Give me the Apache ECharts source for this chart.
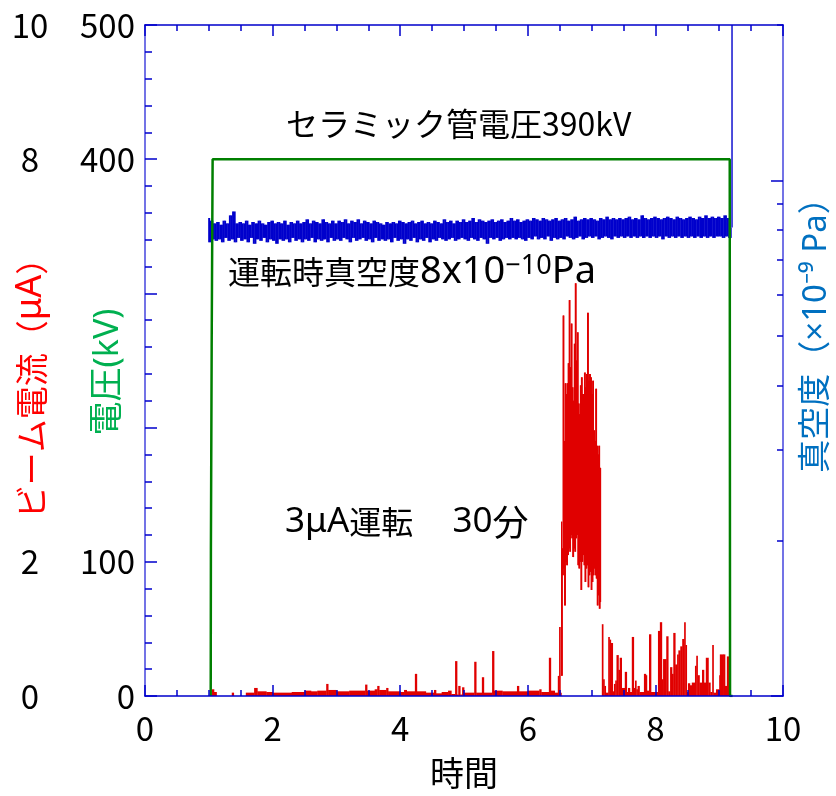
<!DOCTYPE html>
<html>
<head>
<meta charset="utf-8">
<script src="https://cdn.jsdelivr.net/npm/echarts@6/dist/echarts.min.js"></script>
<style>
  html, body { margin: 0; padding: 0; background: #fff; }
  #chart { width: 836px; height: 796px; }
</style>
</head>
<body>
<div id="chart"></div>
<script>
const FONT = "'Noto Sans CJK JP', 'Noto Sans', sans-serif";
const LATIN = "'Noto Sans', 'Noto Sans CJK JP', sans-serif";

// tick labels that are actually printed (the others are hidden behind the axis titles)
const currentTickLabels = [0, 2, 8, 10];
const voltageTickLabels = [0, 100, 400, 500];
const vacuumMajorTicks = [0.1, 1];
const vacuumMinorTicks = [0.2, 0.3, 0.4, 0.5, 0.6, 0.7, 0.8, 0.9, 2];

// tube voltage (kV)
const voltageTime = [1.03, 1.033, 1.045, 1.06, 9.165, 9.17, 9.21];
const voltageKV = [0, 110, 260, 400, 400, 0, 0];

// beam current (uA) before the burst: [time, value held until next time]
const currentLow = [
  [1.05, 0.1], [1.08, 0.06], [1.12, 0], [1.36, 0.05], [1.39, 0], [1.58, 0.05], [1.71, 0.12],
  [1.76, 0.07], [1.9, 0.06], [2.0, 0.05], [2.3, 0.06], [2.5, 0.08], [2.6, 0.07], [2.7, 0.08],
  [2.84, 0.18], [2.87, 0.09], [3.0, 0.07], [3.2, 0.08], [3.45, 0.17], [3.48, 0.08], [3.6, 0.1],
  [3.64, 0.15], [3.67, 0.09], [3.78, 0.12], [3.81, 0.07], [4.0, 0.06], [4.06, 0.09], [4.1, 0.07],
  [4.23, 0.33], [4.26, 0.07], [4.4, 0.05], [4.53, 0.09], [4.56, 0.04], [4.65, 0.06], [4.75, 0.08],
  [4.8, 0.03], [4.86, 0.52], [4.89, 0.02], [4.91, 0.15], [4.94, 0.02], [4.97, 0.13], [5.0, 0.05],
  [5.16, 0.51], [5.19, 0.05], [5.28, 0.28], [5.31, 0.05], [5.44, 0.67], [5.47, 0.08], [5.6, 0.07],
  [5.83, 0.15], [5.86, 0.07], [6.0, 0.08], [6.18, 0.1], [6.21, 0.06], [6.33, 0.57], [6.36, 0.08],
  [6.42, 0.05], [6.47, 0.3], [6.49, 1.03], [6.51, 0.05], [6.52, 0]
];

// the 3 uA burst, sampled evenly (signal jumps between these readings)
const burstStart = 6.52;
const burstStep = 0.008;
const burstCurrent = [
  2.6, 0.3, 2.2, 1.8, 5.67, 1.9, 3.8, 1.35, 4.66, 2.0,
  4.5, 1.95, 4.66, 2.1, 4.96, 2.2, 5.9, 2.15, 4.9, 2.4,
  5.55, 2.35, 4.6, 2.07, 4.4, 2.2, 5.25, 2.15, 6.15, 2.35,
  5.0, 2.4, 5.42, 1.95, 4.36, 1.9, 4.2, 2.0, 4.63, 1.58,
  4.75, 2.0, 4.5, 2.1, 4.5, 1.95, 4.82, 1.7, 4.6, 1.9,
  4.8, 1.95, 5.71, 1.62, 4.7, 1.8, 4.8, 1.85, 4.75, 1.58,
  4.5, 1.7, 4.7, 1.8, 3.96, 1.9, 3.8, 1.8, 4.58, 1.75,
  3.73, 1.35, 3.6, 1.5, 3.73, 1.3, 3.4, 1.4
];

// spikes after the burst: [time, value held until next time]
const currentTail = [
  [7.16, 1.07], [7.18, 0.25], [7.2, 0.15], [7.22, 0.05], [7.26, 0.88], [7.28, 0.84], [7.3, 0.79],
  [7.33, 0.07], [7.35, 0.18], [7.37, 0.23], [7.39, 0.61], [7.42, 0.39], [7.44, 0.57], [7.47, 0.12],
  [7.52, 0.36], [7.55, 0.06], [7.57, 0.12], [7.6, 0.06], [7.63, 0.88], [7.66, 0.12], [7.68, 0.23],
  [7.7, 0.1], [7.72, 0.15], [7.75, 0.06], [7.82, 0.33], [7.85, 0.31], [7.86, 0.08], [7.9, 0.92],
  [7.93, 0.06], [8.04, 0.97], [8.07, 1.1], [8.1, 0.25], [8.12, 0.55], [8.17, 0.89], [8.2, 0.07],
  [8.23, 0.43], [8.26, 0.33], [8.28, 0.94], [8.31, 0.47], [8.34, 0.62], [8.36, 0.68], [8.39, 0.74],
  [8.42, 0.85], [8.45, 1.1], [8.47, 0.76], [8.49, 0.06], [8.51, 0.19], [8.54, 0.16], [8.57, 0.2],
  [8.62, 0.45], [8.64, 0.6], [8.66, 0.31], [8.69, 0.2], [8.73, 0.39], [8.76, 0.2], [8.79, 0.57],
  [8.83, 0.2], [8.86, 0.06], [8.89, 0.76], [8.91, 0.05], [8.95, 0.1], [9.0, 0.31], [9.01, 0.62],
  [9.06, 0.62], [9.09, 0.15], [9.12, 0.59], [9.165, 0]
];

// vacuum (x1e-9 Pa), sampled evenly from the start of operation
const vacuumStart = 0.99;
const vacuumStep = 0.025;
const vacuumValues = [
  0.845, 0.758, 0.835, 0.768, 0.825, 0.763, 0.83, 0.768, 0.82, 0.758, 0.835, 0.773, 0.825, 0.763, 0.855, 0.768, 0.87, 0.758, 0.825, 0.773,
  0.83, 0.763, 0.825, 0.768, 0.835, 0.758, 0.82, 0.773, 0.83, 0.753, 0.825, 0.768, 0.835, 0.763, 0.825, 0.773, 0.82, 0.758, 0.83, 0.768,
  0.835, 0.763, 0.825, 0.753, 0.83, 0.768, 0.825, 0.763, 0.835, 0.768, 0.82, 0.758, 0.83, 0.773, 0.825, 0.763, 0.835, 0.768, 0.825, 0.758,
  0.83, 0.768, 0.84, 0.763, 0.825, 0.773, 0.835, 0.758, 0.83, 0.768, 0.825, 0.763, 0.84, 0.768, 0.83, 0.758, 0.825, 0.773, 0.835, 0.763,
  0.825, 0.768, 0.835, 0.763, 0.83, 0.773, 0.84, 0.768, 0.825, 0.758, 0.835, 0.773, 0.83, 0.763, 0.84, 0.768, 0.825, 0.773, 0.835, 0.763,
  0.83, 0.768, 0.825, 0.758, 0.835, 0.773, 0.83, 0.763, 0.825, 0.768, 0.82, 0.763, 0.83, 0.768, 0.825, 0.758, 0.83, 0.773, 0.825, 0.763,
  0.835, 0.768, 0.83, 0.753, 0.825, 0.768, 0.83, 0.763, 0.835, 0.773, 0.825, 0.758, 0.83, 0.768, 0.835, 0.763, 0.825, 0.773, 0.83, 0.758,
  0.825, 0.768, 0.835, 0.763, 0.83, 0.773, 0.825, 0.768, 0.84, 0.763, 0.83, 0.768, 0.835, 0.773, 0.825, 0.763, 0.835, 0.768, 0.83, 0.773,
  0.84, 0.768, 0.83, 0.763, 0.835, 0.773, 0.845, 0.768, 0.83, 0.763, 0.84, 0.773, 0.835, 0.768, 0.83, 0.753, 0.835, 0.773, 0.84, 0.768,
  0.83, 0.773, 0.835, 0.763, 0.84, 0.768, 0.83, 0.773, 0.835, 0.768, 0.845, 0.773, 0.835, 0.768, 0.84, 0.773, 0.83, 0.768, 0.835, 0.763,
  0.84, 0.773, 0.835, 0.768, 0.845, 0.778, 0.84, 0.768, 0.835, 0.773, 0.845, 0.768, 0.84, 0.778, 0.835, 0.763, 0.84, 0.773, 0.845, 0.768,
  0.835, 0.773, 0.84, 0.768, 0.845, 0.778, 0.835, 0.773, 0.84, 0.768, 0.85, 0.773, 0.835, 0.778, 0.84, 0.768, 0.845, 0.773, 0.84, 0.778,
  0.845, 0.773, 0.84, 0.778, 0.835, 0.768, 0.845, 0.773, 0.84, 0.778, 0.85, 0.773, 0.84, 0.768, 0.845, 0.778, 0.84, 0.773, 0.845, 0.778,
  0.84, 0.773, 0.845, 0.778, 0.85, 0.773, 0.84, 0.778, 0.845, 0.773, 0.84, 0.778, 0.855, 0.773, 0.845, 0.778, 0.84, 0.773, 0.845, 0.778,
  0.85, 0.773, 0.845, 0.778, 0.84, 0.768, 0.845, 0.778, 0.85, 0.773, 0.845, 0.778, 0.84, 0.773, 0.85, 0.778, 0.845, 0.773, 0.84, 0.778,
  0.845, 0.773, 0.85, 0.778, 0.845, 0.773, 0.84, 0.778, 0.85, 0.773, 0.845, 0.778, 0.855, 0.773, 0.845, 0.778, 0.85, 0.773, 0.845, 0.778,
  0.85, 0.778, 0.845, 0.773, 0.855, 0.778, 0.845, 0.773
];
// pressure shoots off scale when the voltage is switched off
const vacuumEnd = [[9.19, 0.81], [9.195, 30]];

// helpers: turn readings into [x0, x1, low, high] blocks
function stepBlocks(pairs) {
  const out = [];
  for (let i = 0; i < pairs.length - 1; i++) {
    if (pairs[i][1] > 0) out.push([pairs[i][0], pairs[i + 1][0], 0, pairs[i][1]]);
  }
  return out;
}
function jumpBlocks(points) {
  const out = [];
  for (let i = 0; i < points.length - 1; i++) {
    const a = points[i][1], b = points[i + 1][1];
    out.push([points[i][0], points[i + 1][0], Math.min(a, b), Math.max(a, b)]);
  }
  return out;
}

const burstPoints = burstCurrent.map((v, i) => [burstStart + i * burstStep, v]);
const currentBlocks = stepBlocks(currentLow)
  .concat(jumpBlocks(burstPoints))
  .concat(stepBlocks(currentTail));
const voltageData = voltageTime.map((t, i) => [t, voltageKV[i]]);
const vacuumPoints = vacuumValues.map((v, i) => [vacuumStart + i * vacuumStep, v]).concat(vacuumEnd);
const vacuumBlocks = jumpBlocks(vacuumPoints);

function blockRenderer(color) {
  return function (params, api) {
    const p0 = api.coord([api.value(0), api.value(3)]);
    const p1 = api.coord([api.value(1), api.value(2)]);
    const w = Math.max(p1[0] - p0[0] + 0.4, 1.4);
    let y = p0[1];
    let h = p1[1] - p0[1];
    if (h < 1.6) { y -= (1.6 - h) / 2; h = 1.6; }
    return {
      type: "rect",
      shape: { x: p0[0], y: y, width: w, height: h },
      style: { fill: color },
    };
  };
}

const AXIS_BLUE = "#0000cc";
const SIDE_BLUE = "#7373e6";

function xAxisBase(position) {
  return {
    type: "value",
    position: position,
    min: 0,
    max: 10,
    interval: 2,
    z: 5,
    axisLine: { show: true, onZero: false, lineStyle: { color: AXIS_BLUE, width: 1.5 } },
    axisTick: { show: true, inside: true, length: 11, lineStyle: { color: AXIS_BLUE, width: 1.5 } },
    minorTick: { show: true, splitNumber: 4, length: 6, lineStyle: { color: AXIS_BLUE, width: 1.5 } },
    splitLine: { show: false },
    axisLabel: { show: false },
  };
}

const xBottom = xAxisBase("bottom");
xBottom.axisLabel = { show: true, color: "#000", fontSize: 33, fontFamily: FONT, margin: 16 };
xBottom.name = "時間";
xBottom.nameLocation = "middle";
xBottom.nameGap = 60;
xBottom.nameTextStyle = { color: "#000", fontSize: 34, fontFamily: FONT };

const option = {
  animation: false,
  backgroundColor: "#fff",
  grid: { left: 145, right: 53, top: 25, bottom: 100, containLabel: false, outerBoundsMode: "none" },
  xAxis: [xBottom, xAxisBase("top")],
  yAxis: [
    {
      // voltage, kV
      type: "value",
      position: "left",
      min: 0,
      max: 500,
      interval: 100,
      z: 5,
      axisLine: { show: true, lineStyle: { color: SIDE_BLUE, width: 2 } },
      axisTick: { show: true, inside: true, length: 12, lineStyle: { color: AXIS_BLUE, width: 1.5 } },
      minorTick: { show: true, splitNumber: 5, length: 7, lineStyle: { color: AXIS_BLUE, width: 1.5 } },
      splitLine: { show: false },
      axisLabel: {
        color: "#000",
        fontSize: 33,
        fontFamily: FONT,
        margin: 10,
        formatter: (v) => (voltageTickLabels.includes(v) ? String(v) : ""),
      },
    },
    {
      // beam current, uA
      type: "value",
      position: "left",
      min: 0,
      max: 10,
      interval: 2,
      axisLine: { show: false },
      axisTick: { show: false },
      splitLine: { show: false },
      axisLabel: {
        color: "#000",
        fontSize: 33,
        fontFamily: FONT,
        margin: 115,
        align: "center",
        formatter: (v) => (currentTickLabels.includes(v) ? String(v) : ""),
      },
    },
    {
      // vacuum, log scale
      type: "log",
      position: "right",
      min: 0.1,
      max: 2,
      z: 5,
      axisLine: { show: true, lineStyle: { color: SIDE_BLUE, width: 2 } },
      axisTick: {
        show: true, inside: true, length: 12, customValues: vacuumMajorTicks,
        lineStyle: { color: AXIS_BLUE, width: 1.5 },
      },
      splitLine: { show: false },
      axisLabel: { show: false },
    },
    {
      type: "log",
      position: "right",
      min: 0.1,
      max: 2,
      z: 5,
      axisLine: { show: false },
      axisTick: {
        show: true, inside: true, length: 6, customValues: vacuumMinorTicks,
        lineStyle: { color: AXIS_BLUE, width: 1.5 },
      },
      splitLine: { show: false },
      axisLabel: { show: false },
    },
  ],
  series: [
    {
      name: "ビーム電流",
      type: "custom",
      yAxisIndex: 1,
      clip: true,
      encode: { x: [0, 1], y: [2, 3] },
      renderItem: blockRenderer("#e00000"),
      data: currentBlocks,
    },
    {
      name: "電圧",
      type: "line",
      yAxisIndex: 0,
      showSymbol: false,
      data: voltageData,
      lineStyle: { color: "#007f00", width: 2.5 },
    },
    {
      name: "真空度",
      type: "custom",
      yAxisIndex: 2,
      clip: true,
      encode: { x: [0, 1], y: [2, 3] },
      renderItem: blockRenderer("#0000cc"),
      data: vacuumBlocks,
    },
  ],
  graphic: [
    {
      type: "text", x: 31, y: 380, rotation: Math.PI / 2,
      style: {
        text: "{c|ビーム電流（}{l|μA}{c|）}",
        fontSize: 33, fontFamily: FONT, fill: "#ff0000", align: "center", verticalAlign: "middle",
        rich: {
          c: { fontSize: 33, fontFamily: FONT, fill: "#ff0000" },
          l: { fontSize: 36, fontFamily: LATIN, fill: "#ff0000" },
        },
      },
    },
    {
      type: "text", x: 108, y: 372, rotation: Math.PI / 2,
      style: { text: "電圧(kV)", fontSize: 34, fontFamily: LATIN, fill: "#00b050", align: "center", verticalAlign: "middle" },
    },
    {
      type: "text", x: 817, y: 327, rotation: Math.PI / 2,
      style: { text: "真空度（×10⁻⁹ Pa）", fontSize: 33, fontFamily: LATIN, fill: "#0070c0", align: "center", verticalAlign: "middle" },
    },
    {
      type: "text", x: 286, y: 124,
      style: { text: "セラミック管電圧390kV", fontSize: 32, fontFamily: FONT, fill: "#000", align: "left", verticalAlign: "middle" },
    },
    {
      type: "text", x: 228, y: 272,
      style: {
        text: "運転時真空度{n|8x10}{s|−10}{n|Pa}",
        fontSize: 32, fontFamily: FONT, fill: "#000", align: "left", verticalAlign: "middle",
        rich: {
          n: { fontSize: 38, fontFamily: LATIN, fill: "#000" },
          s: { fontSize: 27, fontFamily: LATIN, fill: "#000", verticalAlign: "top" },
        },
      },
    },
    {
      type: "text", x: 285, y: 522,
      style: {
        text: "{n|3μA}運転　 {n|30}{k|分}",
        fontSize: 32, fontFamily: FONT, fill: "#000", align: "left", verticalAlign: "middle",
        rich: {
          n: { fontSize: 35, fontFamily: LATIN, fill: "#000" },
          k: { fontSize: 36, fontFamily: FONT, fill: "#000" },
        },
      },
    },
  ],
};

const chart = echarts.init(document.getElementById("chart"), null, { renderer: "canvas" });
chart.setOption(option);
</script>
</body>
</html>
